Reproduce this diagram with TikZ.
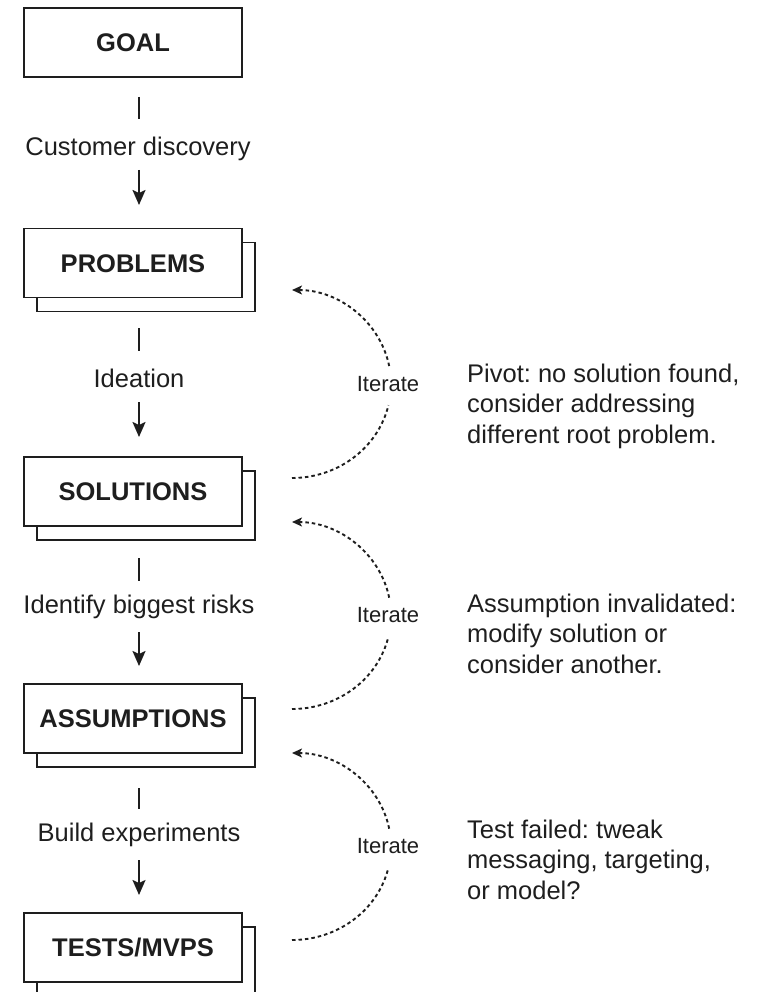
\documentclass[tikz,border=0pt]{standalone}
\usepackage{fontspec}
\setmainfont{Liberation Sans}[Ligatures=NoCommon]
\frenchspacing
\usetikzlibrary{arrows.meta}
\definecolor{ink}{RGB}{30,30,30}
\begin{document}
\begin{tikzpicture}[x=1pt,y=1pt,
  every node/.style={text=ink},
  stagebox/.style={draw=ink, line width=1.8pt, fill=white,
    minimum width=218pt, minimum height=69pt, inner sep=0pt,
    font=\fontsize{25.5}{31}\selectfont\bfseries,
    text height=18.3pt, text depth=0pt},
  backbox/.style={draw=ink, line width=1.8pt, fill=white,
    minimum width=218pt, minimum height=69pt, inner sep=0pt},
  steplabel/.style={font=\fontsize{25.5}{31}\selectfont, anchor=base, inner sep=0pt},
  tick/.style={draw=ink, line width=2pt},
  flow/.style={draw=ink, line width=2pt, -{Stealth[length=15pt,width=13pt,inset=3pt]}},
  iterseg/.style={draw=ink, line width=1.9pt, dash pattern=on 3.5pt off 3pt},
  iter/.style={iterseg, -{Stealth[length=10pt,width=9pt,inset=2.5pt]}},
  iterlabel/.style={font=\fontsize{22}{26}\selectfont, inner sep=0pt},
  note/.style={anchor=base west, inner sep=0pt, font=\fontsize{25.5}{30.5}\selectfont}
]
\useasboundingbox (0,0) rectangle (758,-992);
\clip (0,0) rectangle (758,-992);

% stacked stage boxes (back sheet first, front sheet on top)
\node[stagebox] (goal) at (133,-42.5) {GOAL};

\node[backbox] (prob-b) at (146,-277) {};
\node[stagebox] (prob) at (133,-263) {PROBLEMS};

\node[backbox] (sol-b) at (146,-505.5) {};
\node[stagebox] (sol) at (133,-491.5) {SOLUTIONS};

\node[backbox] (asm-b) at (146,-732.5) {};
\node[stagebox] (asm) at (133,-718.5) {ASSUMPTIONS};

\node[backbox] (tst-b) at (146,-961.5) {};
\node[stagebox] (tst) at (133,-947.5) {TESTS/MVPS};

% step labels between stages
\node[steplabel] (l1) at (138,-156) {Customer discovery};
\node[steplabel] (l2) at (139,-387) {Ideation};
\node[steplabel] (l3) at (139,-613) {Identify biggest risks};
\node[steplabel] (l4) at (139,-841) {Build experiments};

% ticks above and arrows below each step label
\coordinate (t1a) at (139,-97);  \coordinate (t1b) at (139,-119);
\coordinate (a1a) at (139,-170); \coordinate (a1b) at (139,-205);
\coordinate (t2a) at (139,-328); \coordinate (t2b) at (139,-351);
\coordinate (a2a) at (139,-402); \coordinate (a2b) at (139,-437);
\coordinate (t3a) at (139,-558); \coordinate (t3b) at (139,-581);
\coordinate (a3a) at (139,-632); \coordinate (a3b) at (139,-666);
\coordinate (t4a) at (139,-788); \coordinate (t4b) at (139,-809);
\coordinate (a4a) at (139,-860); \coordinate (a4b) at (139,-895);

\draw[tick] (t1a) -- (t1b);  \draw[flow] (a1a) -- (a1b);
\draw[tick] (t2a) -- (t2b);  \draw[flow] (a2a) -- (a2b);
\draw[tick] (t3a) -- (t3b);  \draw[flow] (a3a) -- (a3b);
\draw[tick] (t4a) -- (t4b);  \draw[flow] (a4a) -- (a4b);

% iteration loops
\node[iterlabel] (it1) at (388,-384) {Iterate};
\node[iterlabel] (it2) at (388,-615.5) {Iterate};
\node[iterlabel] (it3) at (388,-846.5) {Iterate};

\coordinate (lo1) at (292,-478);
\coordinate (hi1) at ({292+99*cos(11)},{-384+94*sin(11)});
\draw[iterseg] (lo1) arc[start angle=-90,end angle=-13,x radius=99,y radius=94];
\draw[iter] (hi1) arc[start angle=11,end angle=90,x radius=99,y radius=94];

\coordinate (lo2) at (292,-709);
\coordinate (hi2) at ({292+99*cos(11)},{-615.5+93.5*sin(11)});
\draw[iterseg] (lo2) arc[start angle=-90,end angle=-13,x radius=99,y radius=93.5];
\draw[iter] (hi2) arc[start angle=11,end angle=90,x radius=99,y radius=93.5];

\coordinate (lo3) at (292,-940);
\coordinate (hi3) at ({292+99*cos(11)},{-846.5+93.5*sin(11)});
\draw[iterseg] (lo3) arc[start angle=-90,end angle=-13,x radius=99,y radius=93.5];
\draw[iter] (hi3) arc[start angle=11,end angle=90,x radius=99,y radius=93.5];

% notes on the right
\node[note] (n1) at (467,-382) {\parbox[t]{290pt}{\raggedright
  Pivot: no solution found,\\consider addressing\\dif\kern0ptferent root problem.}};
\node[note] (n2) at (467,-612) {\parbox[t]{290pt}{\raggedright
  Assumption invalidated:\\modify solution or\\consider another.}};
\node[note] (n3) at (467,-838) {\parbox[t]{290pt}{\raggedright
  Test failed: tweak\\messaging, targeting,\\or model?}};
\end{tikzpicture}
\end{document}
